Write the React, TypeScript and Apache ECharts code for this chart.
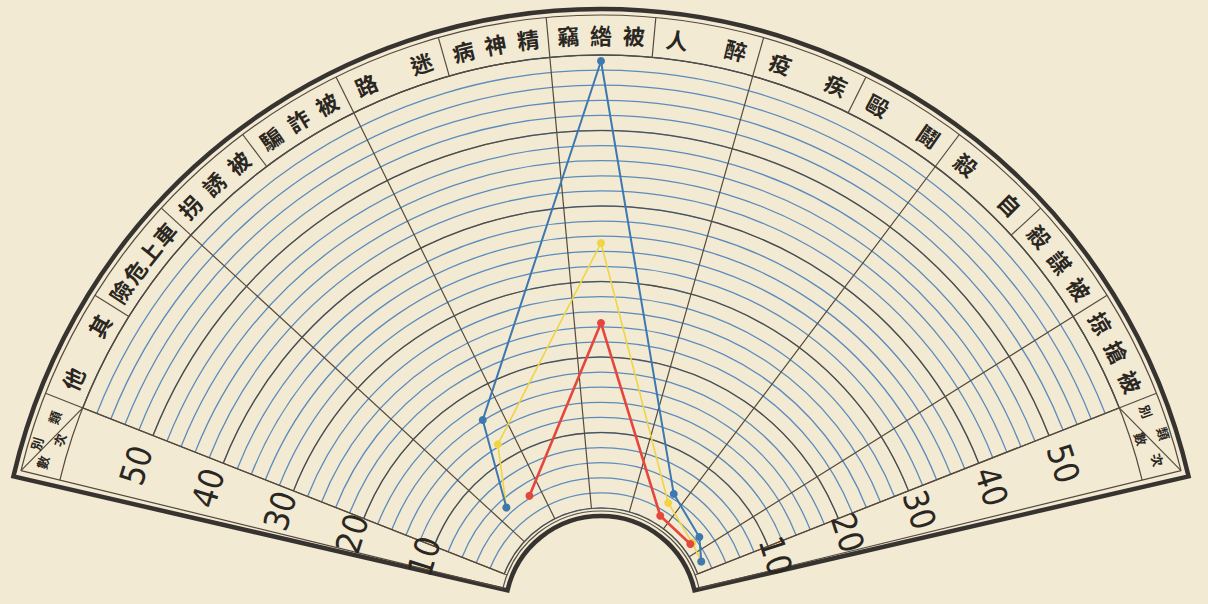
import React, { useEffect, useRef } from 'react';
import * as echarts from 'echarts';

// ---- data ----
const categories = ['其他', '車上危險', '被誘拐', '被詐騙', '迷路', '精神病', '被綹竊', '醉人', '疾疫', '鬪毆', '自殺', '被謀殺', '被搶掠'];
const blueValues = [null, null, 4.9, 16.1, null, null, 59.2, null, null, 4.6, null, 2.6, 1.1];
const yellowValues = [null, null, 4.9, 12.3, null, null, 35.1, null, null, 3.2, null, 1.4, 1.1];
const redValues = [null, null, null, 4.3, null, null, 24.5, null, null, 1.2, null, 1.1, null];
const tickLabels = [10, 20, 30, 40, 50];
const cornerTitle = '類別';
const cornerUnit = '次數';

// ---- geometry / style ----
const CX = 601, CY = 612;
const R_IN = 104, R_OUT = 557, R_BAND = 597;
const A_START = 158.5, A_END = 21.5;
const A_EDGE_L = 166.3, A_EDGE_R = 13.7;
const V_MIN = 0, V_MAX = 60;
const PAPER = '#f2ead2';
const INK = '#2a2622';
const DARK = '#564a3e';
const BLUE_GRID = '#5b8cbd';

const rad = (d: number) => (d * Math.PI) / 180;
const P = (r: number, deg: number) => [CX + r * Math.cos(rad(deg)), CY - r * Math.sin(rad(deg))];
const rOf = (v: number) => R_IN + ((R_OUT - R_IN) * (v - V_MIN)) / (V_MAX - V_MIN);
const catW = (A_START - A_END) / categories.length;

function textEl(str: string, r: number, deg: number, font: string, fill = INK) {
  const [x, y] = P(r, deg);
  return {
    type: 'text',
    x,
    y,
    rotation: rad(deg - 90),
    z: 120,
    style: {
      text: str,
      font,
      fill,
      align: 'center',
      verticalAlign: 'middle',
      textAlign: 'center',
      textVerticalAlign: 'middle',
    },
  };
}

function lineEl(r1: number, a1: number, r2: number, a2: number, stroke: string, lineWidth: number) {
  const [x1, y1] = P(r1, a1);
  const [x2, y2] = P(r2, a2);
  return { type: 'line', z: 110, shape: { x1, y1, x2, y2 }, style: { stroke, lineWidth } };
}

function arcEl(r: number, a1: number, a2: number, stroke: string, lineWidth: number) {
  return {
    type: 'arc',
    z: 110,
    shape: { cx: CX, cy: CY, r, startAngle: -rad(a1), endAngle: -rad(a2), clockwise: true },
    style: { stroke, lineWidth, fill: 'none' },
  };
}

function buildGraphics() {
  const els: any[] = [];
  els.push({
    type: 'sector',
    z: 110,
    shape: { cx: CX, cy: CY, r0: 96, r: 603, startAngle: -rad(167), endAngle: -rad(13), clockwise: true },
    style: { fill: 'none', stroke: '#363330', lineWidth: 4.5 },
  });
  els.push(arcEl(R_BAND, A_EDGE_L, A_EDGE_R, DARK, 1.2));
  els.push(arcEl(R_OUT, A_EDGE_L, A_EDGE_R, DARK, 1.2));
  els.push(arcEl(R_IN - 3, A_EDGE_L, A_EDGE_R, DARK, 1.2));
  for (let k = 0; k <= categories.length; k++) {
    const a = A_START - k * catW;
    const edge = k === 0 || k === categories.length;
    els.push(lineEl(edge ? R_IN - 3 : R_OUT, a, R_BAND, a, DARK, 1.2));
  }
  els.push(lineEl(R_IN - 3, A_EDGE_L, R_BAND, A_EDGE_L, DARK, 1.2));
  els.push(lineEl(R_IN - 3, A_EDGE_R, R_BAND, A_EDGE_R, DARK, 1.2));
  els.push(lineEl(R_OUT, A_START, R_BAND, A_EDGE_L, DARK, 1.2));
  els.push(lineEl(R_OUT, A_END, R_BAND, A_EDGE_R, DARK, 1.2));

  const catFont = 'bold 22px "Noto Sans CJK TC", "Noto Sans CJK JP", sans-serif';
  categories.forEach((name, i) => {
    const chars = name.split('').reverse();
    const n = chars.length;
    const spread = n === 2 ? 0.28 : n === 3 ? 0.31 : 0.34;
    const c = A_START - catW * (i + 0.5);
    chars.forEach((ch, j) => {
      const t = n === 1 ? 0 : -spread + (2 * spread * j) / (n - 1);
      els.push(textEl(ch, 578, c - t * catW, catFont));
    });
  });

  const cFont = 'bold 13px "Noto Sans CJK TC", sans-serif';
  const t = cornerTitle.split('').reverse();
  const u = cornerUnit.split('').reverse();
  els.push(textEl(t[0], 589, 163.4, cFont));
  els.push(textEl(t[1], 580, 160.4, cFont));
  els.push(textEl(u[0], 578, 165.0, cFont));
  els.push(textEl(u[1], 568, 162.4, cFont));
  els.push(textEl(t[0], 581, 20.2, cFont));
  els.push(textEl(t[1], 590, 17.6, cFont));
  els.push(textEl(u[0], 567, 17.8, cFont));
  els.push(textEl(u[1], 577, 15.3, cFont));

  const tFont = '500 34px "Liberation Sans Narrow", "DejaVu Sans Condensed", "DejaVu Sans", sans-serif';
  tickLabels.forEach((v) => {
    els.push(textEl(String(v), rOf(v) + 6, 162.5, tFont));
    els.push(textEl(String(v), rOf(v) + 4, 17.8, tFont));
  });
  return els;
}

function lineSeries(name: string, data: (number | null)[], color: string, width: number, z: number) {
  return {
    name,
    type: 'line',
    coordinateSystem: 'polar',
    polarIndex: 0,
    data,
    connectNulls: true,
    symbol: 'circle',
    symbolSize: 8,
    z,
    lineStyle: { color, width },
    itemStyle: { color },
  };
}

const hidden = { axisLine: { show: false }, axisTick: { show: false }, axisLabel: { show: false } };

export default function App() {
  const ref = useRef<HTMLDivElement>(null);
  useEffect(() => {
    document.body.style.margin = '0';
    document.body.style.background = PAPER;
    const chart = echarts.init(ref.current!, undefined, { renderer: 'svg' });
    chart.setOption({
      animation: false,
      backgroundColor: PAPER,
      polar: [
        { center: [CX, CY], radius: [R_IN, R_OUT] },
        { center: [CX, CY], radius: [R_IN, R_OUT] },
      ],
      angleAxis: [
        {
          polarIndex: 0,
          type: 'category',
          data: categories,
          startAngle: A_START,
          endAngle: A_END,
          clockwise: true,
          boundaryGap: true,
          z: 2,
          ...hidden,
          splitLine: { show: true, lineStyle: { color: DARK, width: 1.2 } },
        },
        {
          polarIndex: 1,
          type: 'category',
          data: categories,
          startAngle: A_START,
          endAngle: A_END,
          clockwise: true,
          boundaryGap: true,
          z: 1,
          ...hidden,
          splitLine: { show: false },
        },
      ],
      radiusAxis: [
        {
          polarIndex: 0,
          type: 'value',
          min: V_MIN,
          max: V_MAX,
          interval: 10,
          z: 2,
          ...hidden,
          splitLine: { show: true, lineStyle: { color: DARK, width: 1.2 } },
        },
        {
          polarIndex: 1,
          type: 'value',
          min: V_MIN,
          max: V_MAX,
          interval: 2,
          z: 1,
          ...hidden,
          splitLine: { show: true, lineStyle: { color: BLUE_GRID, width: 1.3 } },
        },
      ],
      graphic: { elements: buildGraphics() },
      series: [
        lineSeries('yellow', yellowValues, '#f0d443', 1.6, 3),
        lineSeries('blue', blueValues, '#3d78b0', 2, 4),
        lineSeries('red', redValues, '#e4473d', 2.6, 5),
      ],
    });
    return () => chart.dispose();
  }, []);
  return <div ref={ref} style={{ position: 'fixed', left: 0, top: 0, width: 1208, height: 604 }} />;
}
